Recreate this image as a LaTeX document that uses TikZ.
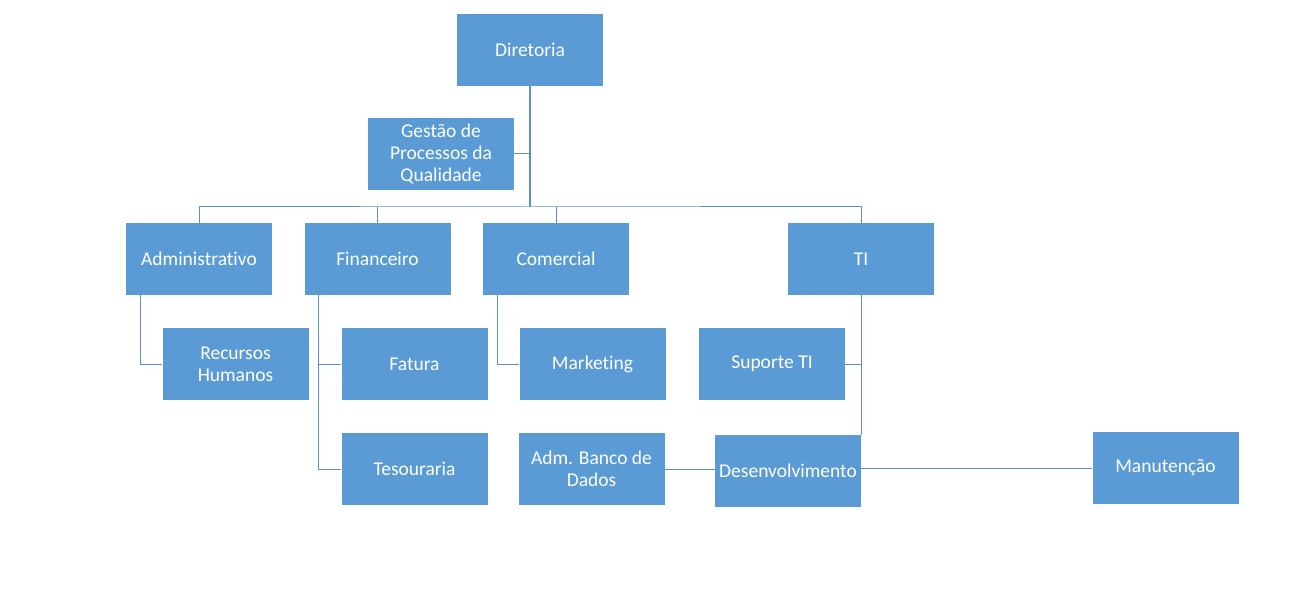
\documentclass[tikz,border=0pt]{standalone}
\usepackage{fontspec}
\setmainfont[Ligatures=NoCommon]{Carlito}
\definecolor{boxblue}{HTML}{5B9BD5}
\definecolor{lineblue}{HTML}{5B8FC9}
\begin{document}
\begin{tikzpicture}[x=1pt,y=-1pt,
  unit/.style={fill=boxblue, draw=none, text=white, minimum width=146pt, minimum height=72pt,
    inner sep=2pt, align=center, font=\fontsize{19.5}{22}\selectfont},
  conn/.style={draw=lineblue, line width=1pt},
  trunk/.style={draw=lineblue, line width=1.8pt}]
\useasboundingbox (0,0) rectangle (1301,612);
\node[unit] (dir) at (530,50) {Diretoria};
\node[unit] (ges) at (441,154) {Gestão de\\Processos da\\Qualidade};
\node[unit] (adm) at (199,259) {Administrativo};
\node[unit] (fin) at (377.5,259) {Financeiro};
\node[unit] (com) at (556,259) {Comercial};
\node[unit] (ti) at (861,259) {TI};
\node[unit] (rh) at (235.5,364) {Recursos\\Humanos};
\node[unit] (fat) at (414.5,364) {Fatura};
\node[unit] (tes) at (414.5,469) {Tesouraria};
\node[unit] (mkt) at (592.5,364) {Marketing};
\node[unit] (sup) at (772,364) {Suporte TI};
\node[unit] (abd) at (591.5,469) {Adm. Banco de\\Dados};
\node[unit] (des) at (788,471) {Desenvolvimento};
\node[unit] (man) at (1165.5,468) {\raisebox{-2pt}{Manutenção}};
% trunk
\coordinate (bus) at (530,207);
\draw[trunk] (dir.south) -- (bus);
\draw[conn] (ges.east) -- (ges.east -| dir.south);
\draw[conn] (adm.north) |- (bus) -| (ti.north);
\draw[conn] (fin.north) -- (fin.north |- bus);
\draw[conn] (com.north) -- (com.north |- bus);
% sub-branches
\draw[conn] ([xshift=-59pt]adm.south) |- (rh.west);
\draw[conn] ([xshift=-59pt]fin.south) |- (tes.west);
\draw[conn] ([xshift=-59pt]fin.south |- fat.west) -- (fat.west);
\draw[conn] ([xshift=-59pt]com.south) |- (mkt.west);
\draw[conn] (ti.south) -- (ti.south |- des.north);
\draw[conn] (sup.east) -- (sup.east -| ti.south);
\draw[conn] (abd.east) -- (abd.east -| des.west);
\draw[conn] (des.east |- man.west) -- (man.west);
\end{tikzpicture}
\end{document}
